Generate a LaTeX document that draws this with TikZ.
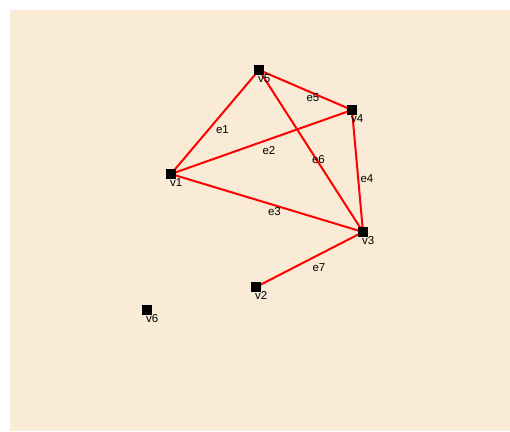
\documentclass[tikz,border=0pt]{standalone}
\usepackage{fontspec}
\setmainfont{Liberation Sans}
\usepackage{tikz}
\usetikzlibrary{positioning}
\definecolor{pbeige}{HTML}{FAEBD7}
\definecolor{pred}{HTML}{FF0000}
\tikzset{
  % black square marker for a vertex
  vtx/.style  = {rectangle, fill=black, minimum size=10pt, inner sep=0pt},
  edg/.style  = {pred, line width=2pt},
  lbl/.style  = {font=\fontsize{11.5}{13}\selectfont, text=black, inner sep=0pt, anchor=north west},
}
\begin{document}
\begin{tikzpicture}[x=1pt,y=-1pt]
\useasboundingbox (0,0) rectangle (510,431);
\fill[pbeige] (10,10) rectangle (510,431);
% vertices
\node[vtx] (v1) at (171,174) {};
\node[vtx] (v2) at (256,287) {};
\node[vtx] (v3) at (363,232) {};
\node[vtx] (v4) at (352,110) {};
\node[vtx] (v5) at (259,70) {};
\node[vtx] (v6) at (147,310) {};
% edges
\draw[edg] (v1.center) -- node[lbl, yshift=-3pt] (e1) {e1} (v5.center);
\draw[edg] (v1.center) -- node[lbl, yshift=-3pt] (e2) {e2} (v4.center);
\draw[edg] (v1.center) -- node[lbl, yshift=-3pt] (e3) {e3} (v3.center);
\draw[edg] (v4.center) -- node[lbl, yshift=-3pt, xshift=2pt] (e4) {e4} (v3.center);
\draw[edg] (v5.center) -- node[lbl, yshift=-3pt] (e5) {e5} (v4.center);
\draw[edg] (v5.center) -- node[lbl, yshift=-3pt] (e6) {e6} (v3.center);
\draw[edg] (v2.center) -- node[lbl, yshift=-3pt, xshift=2pt] (e7) {e7} (v3.center);
% redraw the markers on top of the edges
\foreach \v in {v1,v2,v3,v4,v5,v6}
  \node[vtx] at (\v) {};
% vertex names
\foreach \v in {v1,v2,v3,v4,v5,v6}
  \node[lbl] (\v-name) at ([yshift=-4pt,xshift=-1pt]\v.center) {\v};
\end{tikzpicture}
\end{document}
